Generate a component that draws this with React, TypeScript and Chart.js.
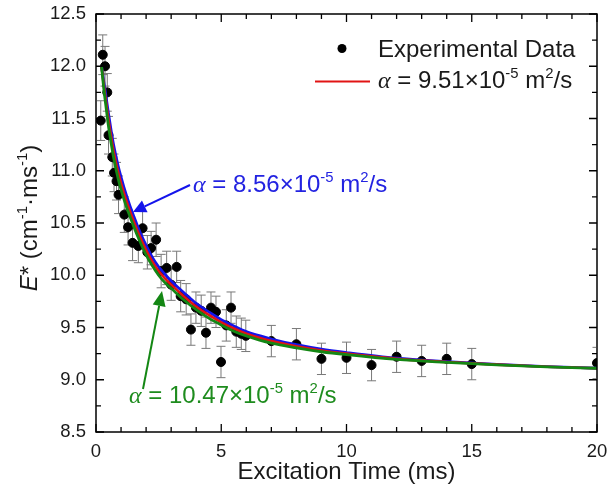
import React, { useEffect, useRef } from 'react';
import { Chart, registerables } from 'chart.js';

Chart.register(...registerables);

// ---------- data ----------
const expTime = [0.19, 0.27, 0.36, 0.45, 0.5, 0.65, 0.72, 0.82, 0.9, 1.13, 1.28, 1.46, 1.69, 1.86, 2.05, 2.2, 2.4, 2.6, 2.82, 3.0, 3.22, 3.38, 3.6, 3.79, 3.99, 4.2, 4.39, 4.59, 4.79, 4.99, 5.2, 5.39, 5.6, 5.8, 5.98, 7.0, 8.0, 9.0, 10.0, 11.0, 12.0, 13.0, 14.0, 15.0, 20.0];
const expE = [11.48, 12.11, 12.0, 11.75, 11.34, 11.13, 10.98, 10.9, 10.77, 10.58, 10.46, 10.31, 10.28, 10.45, 10.22, 10.26, 10.34, 10.04, 10.07, 9.91, 10.08, 9.8, 9.77, 9.48, 9.69, 9.66, 9.45, 9.69, 9.65, 9.17, 9.52, 9.69, 9.46, 9.44, 9.42, 9.37, 9.34, 9.2, 9.21, 9.14, 9.22, 9.18, 9.2, 9.15, 9.16];
const expErr = [0.19, 0.19, 0.19, 0.18, 0.18, 0.18, 0.18, 0.18, 0.18, 0.17, 0.17, 0.17, 0.16, 0.16, 0.16, 0.16, 0.16, 0.16, 0.16, 0.15, 0.15, 0.15, 0.15, 0.15, 0.15, 0.15, 0.15, 0.15, 0.15, 0.15, 0.15, 0.15, 0.15, 0.15, 0.15, 0.15, 0.15, 0.15, 0.15, 0.15, 0.15, 0.15, 0.15, 0.15, 0.15];

const fitTime = [0.22, 0.3, 0.4, 0.49, 0.6, 0.7, 0.88, 1.0, 1.2, 1.36, 1.5, 1.75, 2.0, 2.25, 2.5, 2.75, 3.0, 3.5, 4.0, 4.5, 5.0, 5.5, 6.0, 7.0, 8.0, 9.0, 10.0, 12.0, 14.0, 16.0, 18.0, 20.0];
// alpha = 9.51e-5 m2/s (red)
const fitRed = [12.0, 11.84, 11.66, 11.5, 11.33, 11.19, 10.99, 10.88, 10.72, 10.61, 10.52, 10.37, 10.24, 10.13, 10.04, 9.97, 9.91, 9.8, 9.7, 9.62, 9.55, 9.49, 9.44, 9.37, 9.32, 9.28, 9.25, 9.2, 9.17, 9.145, 9.125, 9.11];
// alpha = 8.56e-5 m2/s (blue)
const fitBlue = [12.0, 11.87, 11.71, 11.56, 11.39, 11.25, 11.05, 10.94, 10.775, 10.66, 10.57, 10.415, 10.285, 10.17, 10.08, 10.01, 9.945, 9.835, 9.73, 9.65, 9.575, 9.515, 9.46, 9.39, 9.335, 9.292, 9.26, 9.206, 9.174, 9.147, 9.126, 9.11];
// alpha = 10.47e-5 m2/s (green)
const fitGreen = [12.0, 11.81, 11.61, 11.44, 11.27, 11.13, 10.93, 10.82, 10.665, 10.56, 10.47, 10.325, 10.195, 10.09, 10.0, 9.93, 9.875, 9.765, 9.67, 9.59, 9.525, 9.465, 9.42, 9.35, 9.305, 9.268, 9.24, 9.194, 9.166, 9.143, 9.124, 9.11];

const xMajorTicks = [0, 5, 10, 15, 20];
const xMinorTicks = [1, 2, 3, 4, 6, 7, 8, 9, 11, 12, 13, 14, 16, 17, 18, 19];
const yMajorTicks = [8.5, 9.0, 9.5, 10.0, 10.5, 11.0, 11.5, 12.0, 12.5];
const yMinorTicks = [8.75, 9.25, 9.75, 10.25, 10.75, 11.25, 11.75, 12.25];

const xTitle = 'Excitation Time (ms)';
const legendData = 'Experimental Data';

const SANS = '"Liberation Sans", Arial, sans-serif';
const SERIF = '"Liberation Serif", "Times New Roman", serif';
const TXT = '#1a1a1a';
const RED = 'rgb(225,20,20)';
const BLUE = 'rgb(20,20,235)';
const GREEN = 'rgb(20,135,20)';
const BLUE_TXT = 'rgb(35,35,225)';
const GREEN_TXT = 'rgb(30,140,30)';

type Seg = { t: string; sup?: boolean; it?: boolean; serif?: boolean };

function segFont(s: Seg, size: number) {
  const sz = s.sup ? size * 0.62 : size;
  return `${s.it ? 'italic ' : ''}${sz}px ${s.serif ? SERIF : SANS}`;
}

function drawRich(ctx: CanvasRenderingContext2D, segs: Seg[], x: number, y: number, size: number, color: string, align: 'left' | 'center' = 'left') {
  ctx.save();
  ctx.fillStyle = color;
  ctx.textBaseline = 'alphabetic';
  ctx.textAlign = 'left';
  let w = 0;
  for (const s of segs) {
    ctx.font = segFont(s, size);
    w += ctx.measureText(s.t).width;
  }
  let cx = align === 'center' ? x - w / 2 : x;
  for (const s of segs) {
    ctx.font = segFont(s, size);
    ctx.fillText(s.t, cx, s.sup ? y - size * 0.4 : y);
    cx += ctx.measureText(s.t).width;
  }
  ctx.restore();
}

function alphaSegs(val: string): Seg[] {
  return [
    { t: 'α', it: true, serif: true },
    { t: ` = ${val}×10` },
    { t: '-5', sup: true },
    { t: ' m' },
    { t: '2', sup: true },
    { t: '/s' },
  ];
}

function arrow(ctx: CanvasRenderingContext2D, x0: number, y0: number, x1: number, y1: number, color: string, headLen: number, headHalf: number) {
  const ang = Math.atan2(y1 - y0, x1 - x0);
  const bx = x1 - headLen * Math.cos(ang);
  const by = y1 - headLen * Math.sin(ang);
  ctx.save();
  ctx.strokeStyle = color;
  ctx.fillStyle = color;
  ctx.lineWidth = 2;
  ctx.beginPath();
  ctx.moveTo(x0, y0);
  ctx.lineTo(bx, by);
  ctx.stroke();
  ctx.beginPath();
  ctx.moveTo(x1, y1);
  ctx.lineTo(bx + headHalf * Math.sin(ang), by - headHalf * Math.cos(ang));
  ctx.lineTo(bx - headHalf * Math.sin(ang), by + headHalf * Math.cos(ang));
  ctx.closePath();
  ctx.fill();
  ctx.restore();
}

const overlay = {
  id: 'overlay',
  beforeDatasetsDraw(chart: any) {
    const { ctx, chartArea } = chart;
    const xs = chart.scales.x;
    const ys = chart.scales.y;
    ctx.save();
    ctx.beginPath();
    ctx.rect(chartArea.left + 1, chartArea.top, chartArea.right - chartArea.left - 2, chartArea.bottom - chartArea.top);
    ctx.clip();
    ctx.strokeStyle = 'rgb(120,120,120)';
    ctx.lineWidth = 1;
    for (let i = 0; i < expTime.length; i++) {
      const px = xs.getPixelForValue(expTime[i]);
      const pTop = ys.getPixelForValue(expE[i] + expErr[i]);
      const pBot = ys.getPixelForValue(expE[i] - expErr[i]);
      ctx.beginPath();
      ctx.moveTo(px, pTop);
      ctx.lineTo(px, pBot);
      ctx.moveTo(px - 4.5, pTop);
      ctx.lineTo(px + 4.5, pTop);
      ctx.moveTo(px - 4.5, pBot);
      ctx.lineTo(px + 4.5, pBot);
      ctx.stroke();
    }
    ctx.restore();
  },
  afterDraw(chart: any) {
    const { ctx, chartArea } = chart;
    const { left, right, top, bottom } = chartArea;
    const xs = chart.scales.x;
    const ys = chart.scales.y;
    ctx.save();
    // frame
    ctx.strokeStyle = '#000';
    ctx.lineWidth = 1.5;
    ctx.strokeRect(left, top, right - left, bottom - top);
    // inward ticks
    ctx.lineWidth = 1.3;
    ctx.beginPath();
    const xt = (v: number, len: number) => {
      const px = xs.getPixelForValue(v);
      ctx.moveTo(px, bottom);
      ctx.lineTo(px, bottom - len);
      ctx.moveTo(px, top);
      ctx.lineTo(px, top + len);
    };
    const yt = (v: number, len: number) => {
      const py = ys.getPixelForValue(v);
      ctx.moveTo(left, py);
      ctx.lineTo(left + len, py);
      ctx.moveTo(right, py);
      ctx.lineTo(right - len, py);
    };
    xMajorTicks.forEach((v) => xt(v, 8));
    xMinorTicks.forEach((v) => xt(v, 5));
    yMajorTicks.forEach((v) => yt(v, 8));
    yMinorTicks.forEach((v) => yt(v, 5));
    ctx.stroke();

    // x title
    ctx.fillStyle = TXT;
    ctx.font = `24px ${SANS}`;
    ctx.textAlign = 'center';
    ctx.textBaseline = 'alphabetic';
    ctx.fillText(xTitle, (left + right) / 2, 479);

    // y title (rotated)
    ctx.save();
    ctx.translate(37, 218);
    ctx.rotate(-Math.PI / 2);
    drawRich(ctx, [
      { t: 'E', it: true },
      { t: '* (cm' },
      { t: '-1', sup: true },
      { t: '·ms' },
      { t: '-1', sup: true },
      { t: ')' },
    ], 0, 0, 24, TXT, 'center');
    ctx.restore();

    // legend
    ctx.fillStyle = '#000';
    ctx.beginPath();
    ctx.arc(342, 48.5, 4.5, 0, Math.PI * 2);
    ctx.fill();
    ctx.fillStyle = TXT;
    ctx.font = `24px ${SANS}`;
    ctx.textAlign = 'left';
    ctx.fillText(legendData, 378, 57);
    ctx.strokeStyle = RED;
    ctx.lineWidth = 2;
    ctx.beginPath();
    ctx.moveTo(315, 81.5);
    ctx.lineTo(370, 81.5);
    ctx.stroke();
    drawRich(ctx, alphaSegs('9.51'), 378, 88, 24, TXT);

    // annotations
    drawRich(ctx, alphaSegs('8.56'), 193, 192, 24, BLUE_TXT);
    arrow(ctx, 190, 185, 133, 212, BLUE, 13, 6.5);
    drawRich(ctx, alphaSegs('10.47'), 129, 403, 24, GREEN_TXT);
    arrow(ctx, 143, 389, 162, 291, GREEN, 15, 6.5);
    ctx.restore();
  },
};

export default function App() {
  const ref = useRef<HTMLCanvasElement>(null);
  useEffect(() => {
    const canvas = ref.current;
    if (!canvas) return;
    const chart = new Chart(canvas, {
      type: 'scatter',
      data: {
        datasets: [
          {
            label: legendData,
            data: expTime.map((x, i) => ({ x, y: expE[i] })),
            backgroundColor: '#000',
            borderColor: '#000',
            pointRadius: 4.5,
            pointHoverRadius: 4.5,
            showLine: false,
            order: 4,
          },
          {
            label: 'α = 8.56×10-5 m2/s',
            data: fitTime.map((x, i) => ({ x, y: fitBlue[i] })),
            showLine: true,
            borderColor: BLUE,
            backgroundColor: BLUE,
            borderWidth: 2.8,
            pointRadius: 0,
            cubicInterpolationMode: 'monotone',
            order: 3,
          },
          {
            label: 'α = 9.51×10-5 m2/s',
            data: fitTime.map((x, i) => ({ x, y: fitRed[i] })),
            showLine: true,
            borderColor: RED,
            backgroundColor: RED,
            borderWidth: 2.6,
            pointRadius: 0,
            cubicInterpolationMode: 'monotone',
            order: 2,
          },
          {
            label: 'α = 10.47×10-5 m2/s',
            data: fitTime.map((x, i) => ({ x, y: fitGreen[i] })),
            showLine: true,
            borderColor: GREEN,
            backgroundColor: GREEN,
            borderWidth: 2.8,
            pointRadius: 0,
            cubicInterpolationMode: 'monotone',
            order: 1,
          },
        ],
      } as any,
      options: {
        animation: false,
        responsive: false,
        events: [],
        layout: { padding: { left: 0, right: 11, top: 14, bottom: 0 } },
        plugins: { legend: { display: false }, tooltip: { enabled: false } },
        scales: {
          x: {
            type: 'linear',
            min: 0,
            max: 20,
            afterFit: (s: any) => {
              s.height = 61;
              s.paddingLeft = 0;
              s.paddingRight = 0;
              s.paddingTop = 0;
              s.paddingBottom = 0;
            },
            grid: { display: false, drawTicks: false },
            border: { display: false },
            ticks: {
              stepSize: 5,
              padding: 9,
              maxRotation: 0,
              autoSkip: false,
              color: TXT,
              font: { family: SANS, size: 18.5 },
              callback: (v: any) => String(v),
            },
          },
          y: {
            type: 'linear',
            min: 8.5,
            max: 12.5,
            afterFit: (s: any) => {
              s.width = 96;
              s.paddingLeft = 0;
              s.paddingRight = 0;
              s.paddingTop = 0;
              s.paddingBottom = 0;
            },
            grid: { display: false, drawTicks: false },
            border: { display: false },
            ticks: {
              stepSize: 0.5,
              padding: 10,
              autoSkip: false,
              color: TXT,
              font: { family: SANS, size: 18.5 },
              callback: (v: any) => Number(v).toFixed(1),
            },
          },
        },
      } as any,
      plugins: [overlay],
    });
    return () => chart.destroy();
  }, []);
  return (
    <div style={{ position: 'fixed', left: 0, top: 0, width: 608, height: 493, background: '#fff' }}>
      <canvas ref={ref} width={608} height={493} style={{ display: 'block' }} />
    </div>
  );
}
